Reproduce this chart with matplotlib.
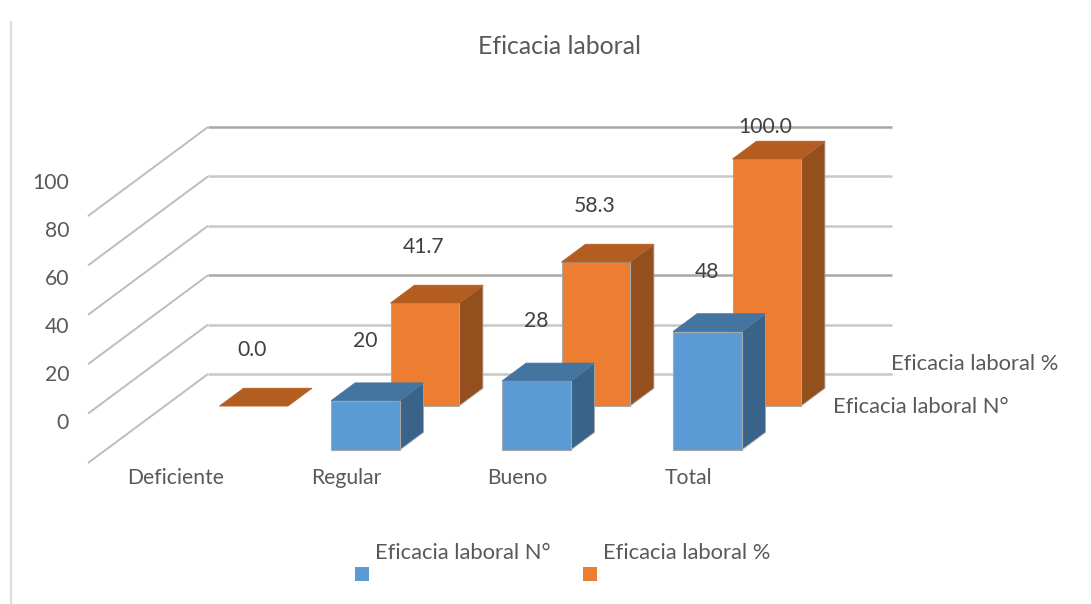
#!/usr/bin/env python3
"""Excel style 3D column chart of Eficacia laboral, drawn with an oblique projection."""

import matplotlib

matplotlib.use("Agg")
import matplotlib.pyplot as plt
from matplotlib.patches import Polygon

plt.rcParams["font.family"] = ["Lato", "DejaVu Sans"]

TITLE = "Eficacia laboral"
CATEGORIES = ["Deficiente", "Regular", "Bueno", "Total"]
SERIES_N = "Eficacia laboral N°"
SERIES_PCT = "Eficacia laboral %"
VALUES_N = [None, 20, 28, 48]
VALUES_PCT = [0.0, 41.7, 58.3, 100.0]
Y_TICKS = [0, 20, 40, 60, 80, 100]

BLUE = ("#5b9bd5", "#4475a1", "#3a638a")
ORANGE = ("#ed7d31", "#b35e20", "#94501c")
TEXT = "#595959"
LABEL = "#404040"
FONT = 15.2
FONT_SERIES = 15.8

# projection, in figure pixels
X0, Y0 = 88.0, 463.0
CAT_W = 171.0
VAL_H = 2.47
DEPTH_X, DEPTH_Y = 60.0, 44.5
BAR_W = 0.40
BAR_D = 0.40


def project(cat, val, depth):
    return (X0 + CAT_W * cat + DEPTH_X * depth, Y0 - VAL_H * val - DEPTH_Y * depth)


def draw_bar(ax, i, val, depth, colors, zorder):
    c0, c1 = i + 0.32, i + 0.32 + BAR_W
    d0, d1 = depth, depth + BAR_D
    front = [project(c0, 0, d0), project(c1, 0, d0), project(c1, val, d0), project(c0, val, d0)]
    top = [project(c0, val, d0), project(c1, val, d0), project(c1, val, d1), project(c0, val, d1)]
    side = [project(c1, 0, d0), project(c1, 0, d1), project(c1, val, d1), project(c1, val, d0)]
    if val > 0:
        ax.add_patch(Polygon(side, fc=colors[2], ec="#a8a8a8", lw=0.6, zorder=zorder))
        ax.add_patch(Polygon(front, fc=colors[0], ec="#a8a8a8", lw=0.8, zorder=zorder))
    ax.add_patch(Polygon(top, fc=colors[1], ec=colors[1], lw=0.6, zorder=zorder))


def main():
    fig = plt.figure(figsize=(10.91, 6.04), dpi=100)
    ax = fig.add_axes([0, 0, 1, 1])
    ax.set_xlim(0, 1091)
    ax.set_ylim(604, 0)
    ax.axis("off")

    # chart frame, only the left edge survives in the picture
    ax.plot([11, 11], [22, 604], color="#dedede", lw=1.6, zorder=1)

    ax.text(559, 47, TITLE, ha="center", va="center", fontsize=17.9, color=TEXT)

    n_cat = len(CATEGORIES)
    for tick in Y_TICKS:
        a = project(0, tick, 0)
        b = project(0, tick, 2)
        c = project(n_cat, tick, 2)
        shade = "#a6a6a6" if tick in (100, 40) else "#c8c8c8"
        ax.plot([a[0], b[0]], [a[1], b[1]], color="#bdbdbd", lw=1.4, zorder=2, solid_capstyle="butt")
        ax.plot([b[0], c[0]], [b[1], c[1]], color=shade, lw=1.8, zorder=2, solid_capstyle="butt")
        ax.text(69, 423 - 2.4 * tick, str(tick), ha="right", va="center", fontsize=FONT, color=TEXT)

    for i, val in enumerate(VALUES_PCT):
        draw_bar(ax, i, val, 1.28, ORANGE, 3 + 2 * i)
    for i, val in enumerate(VALUES_N):
        if val is not None:
            draw_bar(ax, i, val, 0.29, BLUE, 4 + 2 * i)

    for i, cat in enumerate(CATEGORIES):
        ax.text(X0 + CAT_W * i + 87.5, 478, cat, ha="center", va="center", fontsize=FONT, color=TEXT)

    # data labels, the tallest one is held inside the plot area
    top_limit = project(0, max(Y_TICKS), 2)[1]
    for i, val in enumerate(VALUES_PCT):
        x, y = project(i + 0.52, val, 1.26)
        ax.text(x, max(y - 57, top_limit), f"{val:.1f}", ha="center", va="center",
                fontsize=FONT, color=LABEL, zorder=20)
    for i, val in enumerate(VALUES_N):
        if val is not None:
            x, y = project(i + 0.52, val, 0.29)
            ax.text(x, y - 60, str(val), ha="center", va="center", fontsize=FONT, color=LABEL, zorder=20)

    # depth axis labels
    ax.text(891, 364, SERIES_PCT, ha="left", va="center", fontsize=FONT_SERIES, color=TEXT)
    ax.text(833, 407, SERIES_N, ha="left", va="center", fontsize=FONT_SERIES, color=TEXT)

    # legend
    ax.add_patch(plt.Rectangle((355, 567), 14, 14, fc=BLUE[0], ec="none"))
    ax.add_patch(plt.Rectangle((583, 567), 14, 14, fc=ORANGE[0], ec="none"))
    ax.text(375, 553, SERIES_N, ha="left", va="center", fontsize=FONT_SERIES, color=TEXT)
    ax.text(603, 553, SERIES_PCT, ha="left", va="center", fontsize=FONT_SERIES, color=TEXT)

    fig.savefig("out.png", dpi=100)
    plt.close(fig)


if __name__ == "__main__":
    main()
